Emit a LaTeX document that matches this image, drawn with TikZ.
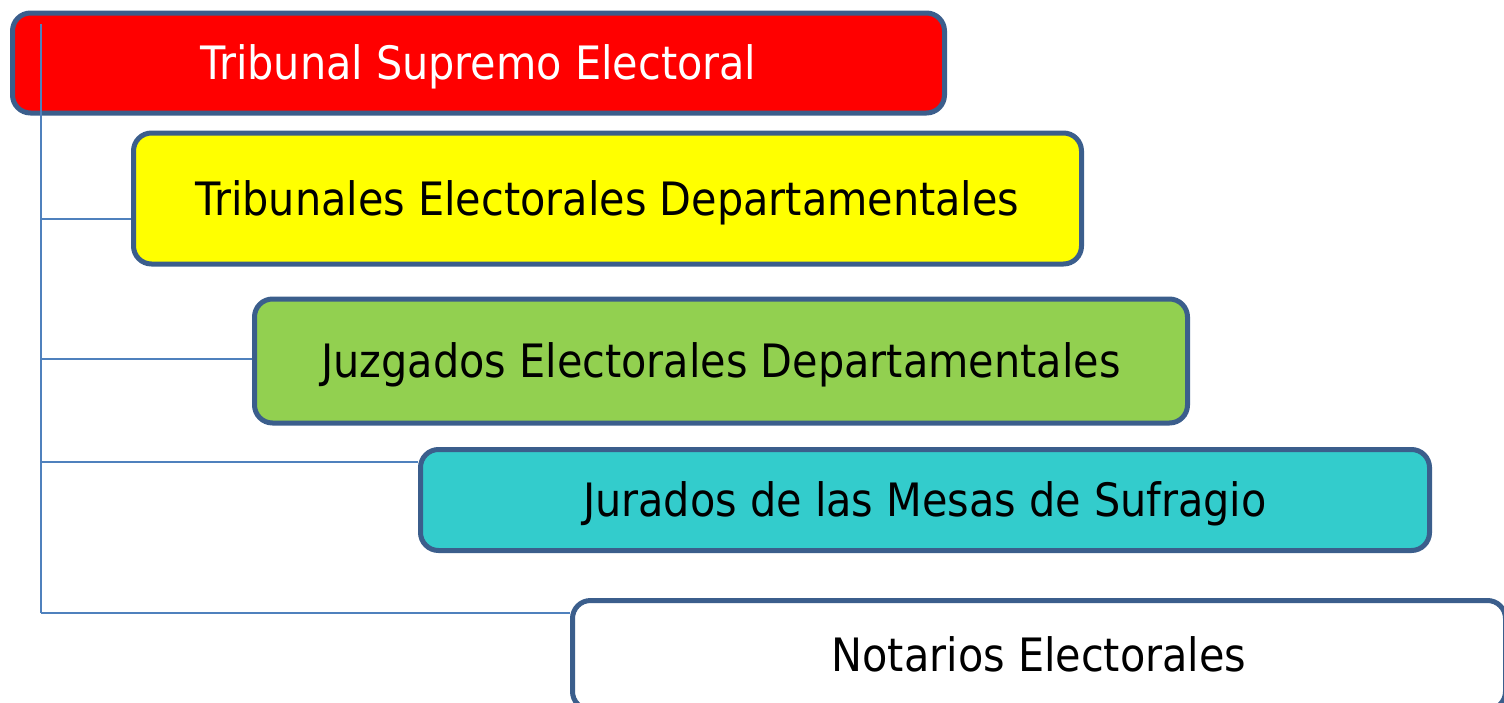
\documentclass[tikz,border=0pt]{standalone}
\usepackage{fontspec}
\setmainfont{DejaVu Sans Condensed}
\definecolor{boxline}{HTML}{3B5E8C}
\definecolor{linkline}{HTML}{4F81BD}
\definecolor{tsered}{HTML}{FF0000}
\definecolor{tseyellow}{HTML}{FFFF00}
\definecolor{tsegreen}{HTML}{92D050}
\definecolor{tsecyan}{HTML}{33CCCC}
\begin{document}
\begin{tikzpicture}[x=0.5pt,y=-0.5pt,
  level/.style={draw=boxline,line width=2.5pt,rounded corners=9pt,inner sep=0pt,
    text height=16.8pt,text depth=0pt,font=\fontsize{23}{28}\selectfont},
  link/.style={draw=linkline,line width=0.6pt}]
\useasboundingbox (0,0) rectangle (1504,702);
\clip (0,0) rectangle (1504,702);
\node [level,fill=tsered,text=white,minimum width=466pt,minimum height=50pt] (tse) at (478.5,63) {Tribunal Supremo Electoral};
\node [level,fill=tseyellow,minimum width=474pt,minimum height=65.5pt] (ted) at (607.5,198.5) {Tribunales Electorales Departamentales};
\node [level,fill=tsegreen,minimum width=466.5pt,minimum height=62pt] (jed) at (721,361) {Juzgados Electorales Departamentales};
\node [level,fill=tsecyan,minimum width=504.5pt,minimum height=50.5pt] (jms) at (925,500) {Jurados de las Mesas de Sufragio};
\node [level,fill=white,minimum width=466.5pt,minimum height=54.5pt] (ne) at (1039,655) {Notarios Electorales};
% trunk
\coordinate (top) at (41,24);
\coordinate (b1) at (41,219);
\coordinate (b2) at (41,359);
\coordinate (b3) at (41,462);
\coordinate (b4) at (41,613);
\draw [link] (top) -- (b4);
\draw [link] (b1) -- (b1 -| ted.west);
\draw [link] (b2) -- (b2 -| jed.west);
\draw [link] (b3) -- (b3 -| jms.west);
\draw [link] (b4) -- (b4 -| ne.west);
\end{tikzpicture}
\end{document}
